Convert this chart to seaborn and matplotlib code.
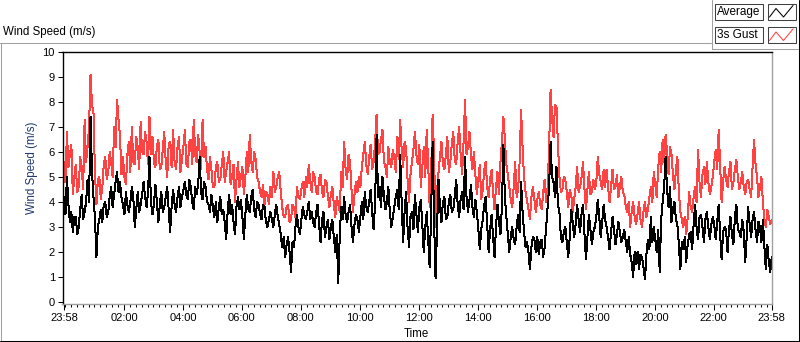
import numpy as np
import pandas as pd
import matplotlib
matplotlib.use('Agg')
import matplotlib.pyplot as plt
import matplotlib.dates as mdates
from matplotlib.lines import Line2D
from matplotlib.patches import Rectangle
import seaborn as sns

# valores, um ponto a cada 6 minutos (23:58 -> 23:58), uma linha por hora
rajada_3s = [
    5.6, 6.8, 5.9, 4.3, 5.5, 4.6, 5.4, 7.3, 6.2, 9.1,
    7.6, 3.9, 5.0, 4.6, 5.8, 5.2, 5.6, 7.0, 8.1, 6.6,
    5.8, 4.7, 6.4, 7.0, 5.5, 6.2, 7.2, 5.9, 6.4, 7.4,
    6.6, 5.4, 6.5, 5.4, 6.8, 5.0, 6.4, 6.9, 5.3, 6.6,
    5.7, 6.9, 5.4, 6.5, 7.3, 5.6, 6.0, 7.3, 6.2, 4.9,
    5.3, 4.6, 5.6, 4.9, 6.0, 5.2, 6.0, 5.0, 4.0, 5.6,
    5.0, 4.3, 6.0, 6.7, 5.2, 5.7, 4.8, 4.2, 3.9, 4.3,
    4.6, 5.2, 4.6, 5.2, 3.8, 3.4, 3.9, 3.3, 3.8, 4.6,
    4.1, 4.8, 5.0, 5.5, 4.4, 5.0, 4.3, 5.1, 4.2, 4.8,
    3.8, 4.6, 3.4, 3.9, 5.2, 6.4, 4.9, 5.6, 3.6, 4.8,
    5.0, 5.4, 6.4, 5.1, 6.3, 5.6, 7.5, 6.0, 6.9, 5.4,
    6.2, 5.4, 5.8, 6.6, 7.3, 5.4, 6.2, 4.0, 5.6, 6.8,
    5.5, 4.6, 6.2, 6.9, 3.8, 7.5, 3.0, 5.2, 6.4, 5.3,
    6.6, 5.6, 6.8, 5.5, 7.0, 5.1, 8.1, 6.2, 5.9, 6.0,
    4.3, 5.5, 4.5, 5.6, 4.2, 5.3, 3.7, 5.2, 5.6, 7.4,
    5.5, 4.6, 3.8, 5.6, 4.5, 7.7, 5.0, 4.1, 3.3, 4.6,
    3.6, 4.4, 3.7, 4.9, 4.6, 8.5, 6.6, 7.8, 5.0, 4.5,
    4.9, 3.8, 4.3, 4.1, 5.4, 4.6, 5.6, 3.7, 5.2, 4.4,
    4.5, 5.8, 4.8, 5.3, 5.3, 4.0, 5.3, 4.6, 4.2, 5.0,
    4.3, 3.6, 3.0, 4.0, 3.1, 4.0, 3.0, 4.0, 3.7, 4.6,
    5.2, 4.2, 6.0, 6.5, 6.7, 5.1, 5.9, 4.5, 5.8, 3.6,
    3.0, 2.7, 4.4, 3.6, 4.6, 6.1, 4.2, 5.4, 5.6, 4.3,
    5.0, 6.1, 6.9, 4.0, 5.4, 4.6, 5.6, 4.8, 5.7, 4.5,
    5.2, 4.3, 4.9, 4.2, 6.5, 5.0, 4.6, 4.0, 3.0, 3.4,
    3.3,
]

# leituras intermédias (3 min depois de cada leitura acima)
rajada_3s_meio = [
    4.8, 5.4, 6.3, 5.0, 4.4, 5.8, 4.5, 5.6, 7.0, 7.9,
    5.2, 4.9, 4.1, 5.5, 4.9, 6.0, 5.0, 6.2, 7.3, 5.1,
    5.0, 5.9, 5.2, 5.6, 6.6, 5.3, 6.0, 6.8, 5.5, 5.9,
    5.6, 6.2, 5.3, 6.1, 5.6, 6.3, 5.4, 5.6, 6.2, 5.2,
    6.2, 5.5, 6.4, 5.5, 5.9, 6.7, 5.3, 5.8, 5.3, 5.8,
    4.6, 5.4, 4.8, 5.5, 4.8, 5.6, 4.7, 5.5, 4.9, 4.6,
    5.4, 5.0, 5.2, 5.6, 6.0, 5.0, 4.4, 4.7, 4.4, 3.9,
    4.2, 4.4, 5.0, 4.4, 3.4, 3.8, 3.2, 3.9, 3.4, 4.2,
    4.5, 4.2, 4.6, 4.8, 5.2, 4.4, 4.9, 4.4, 4.9, 4.2,
    4.3, 3.9, 4.2, 3.6, 4.6, 5.3, 5.9, 4.5, 4.3, 4.4,
    4.6, 5.9, 5.5, 5.8, 5.3, 6.4, 5.9, 6.5, 5.6, 5.0,
    5.6, 6.1, 5.2, 5.7, 6.1, 6.4, 4.9, 5.1, 6.1, 5.9,
    6.3, 5.4, 5.0, 5.5, 5.2, 5.9, 4.4, 5.8, 5.5, 5.9,
    5.2, 6.3, 5.7, 6.4, 5.9, 6.4, 5.9, 6.8, 5.3, 5.1,
    4.9, 4.1, 5.3, 4.6, 4.9, 4.4, 4.6, 4.3, 6.4, 6.5,
    5.1, 4.1, 4.6, 4.2, 5.6, 6.2, 4.4, 3.7, 4.2, 4.1,
    4.1, 3.9, 4.4, 4.0, 6.2, 7.4, 7.9, 6.3, 4.4, 5.0,
    4.4, 4.5, 3.6, 4.6, 4.4, 5.0, 4.5, 4.5, 4.3, 4.9,
    4.8, 5.1, 4.5, 4.6, 4.6, 4.6, 4.5, 5.1, 4.6, 4.4,
    3.8, 4.0, 3.6, 3.4, 3.5, 3.3, 3.6, 3.4, 4.2, 4.0,
    4.7, 5.4, 5.2, 5.6, 6.0, 6.2, 5.1, 5.3, 4.4, 3.3,
    3.4, 3.4, 3.8, 4.2, 4.0, 4.8, 5.1, 4.7, 4.8, 4.6,
    5.6, 5.3, 5.5, 4.8, 4.9, 5.2, 4.5, 5.3, 5.0, 4.8,
    4.6, 4.8, 4.5, 5.4, 5.5, 4.2, 5.0, 3.3, 3.7, 3.1,
]

media = [
    4.2, 5.0, 3.2, 2.8, 3.4, 3.0, 4.3, 3.6, 4.9, 7.4,
    4.2, 1.8, 3.3, 3.2, 4.0, 3.6, 4.6, 4.3, 5.2, 4.8,
    3.9, 4.4, 3.6, 4.6, 3.0, 4.4, 3.9, 4.8, 3.8, 5.8,
    3.5, 4.7, 3.2, 4.4, 3.8, 4.6, 2.8, 4.5, 3.6, 4.6,
    4.2, 4.8, 4.1, 4.6, 3.7, 4.3, 5.8, 4.1, 4.6, 3.9,
    4.3, 3.4, 3.2, 4.2, 3.7, 2.5, 4.3, 3.9, 2.7, 4.2,
    4.1, 2.5, 4.3, 3.6, 4.5, 3.4, 3.9, 3.3, 3.8, 3.0,
    3.6, 3.0, 3.9, 3.1, 2.2, 1.8, 2.6, 1.2, 2.2, 3.5,
    2.7, 3.8, 3.3, 4.0, 3.6, 3.0, 3.9, 2.4, 3.6, 3.0,
    2.5, 3.3, 2.0, 0.75, 3.8, 4.2, 3.2, 3.9, 2.4, 3.5,
    2.8, 4.0, 4.4, 3.6, 4.5, 2.9, 6.7, 4.6, 5.0, 3.7,
    4.6, 3.0, 3.8, 4.5, 5.9, 2.4, 4.4, 2.2, 3.6, 4.3,
    2.8, 4.1, 2.0, 3.6, 1.4, 6.4, 0.95, 4.9, 3.2, 4.2,
    3.4, 4.3, 3.7, 4.9, 3.4, 4.4, 5.8, 3.6, 4.7, 3.4,
    3.6, 2.1, 3.3, 4.2, 2.0, 3.5, 1.8, 3.9, 2.7, 6.3,
    3.4, 2.0, 3.0, 2.3, 3.5, 4.8, 2.8, 2.4, 1.3, 2.6,
    2.0, 1.9, 2.5, 2.2, 3.8, 6.4, 4.8, 5.4, 3.6, 2.4,
    3.0, 1.8, 3.7, 2.6, 3.9, 2.8, 3.9, 1.7, 3.5, 2.3,
    3.0, 4.1, 2.6, 3.9, 3.0, 2.1, 3.4, 2.3, 3.2, 2.4,
    2.9, 2.0, 1.9, 1.0, 1.5, 1.3, 1.8, 0.9, 2.5, 3.4,
    3.0, 2.0, 1.2, 4.0, 5.8, 3.8, 3.2, 4.0, 3.1, 1.3,
    2.1, 1.6, 2.7, 2.1, 3.9, 2.5, 3.5, 2.4, 3.6, 2.5,
    3.4, 2.5, 3.9, 1.7, 3.0, 2.0, 3.4, 2.3, 3.9, 2.8,
    3.3, 1.6, 3.8, 2.6, 3.6, 2.4, 3.0, 3.3, 1.3, 1.6,
    1.8,
]

media_meio = [
    3.5, 3.9, 3.6, 3.4, 2.7, 3.7, 3.3, 4.0, 4.0, 5.2,
    3.4, 3.0, 3.7, 3.9, 3.4, 4.2, 3.8, 4.8, 4.4, 4.2,
    3.5, 3.9, 4.0, 4.2, 3.7, 3.6, 4.3, 4.2, 4.4, 4.0,
    3.9, 4.0, 3.9, 3.6, 4.2, 3.7, 3.8, 3.9, 4.2, 3.8,
    4.5, 4.3, 4.9, 4.0, 4.6, 4.7, 4.4, 4.8, 4.0, 3.6,
    3.8, 4.0, 3.8, 3.5, 3.2, 3.6, 3.5, 3.2, 3.8, 3.7,
    3.4, 3.5, 3.7, 4.2, 3.7, 4.0, 3.5, 3.9, 3.2, 3.3,
    3.3, 3.5, 3.4, 2.7, 2.6, 2.3, 2.0, 2.4, 3.0, 3.0,
    3.3, 3.5, 3.6, 3.3, 3.2, 3.6, 3.1, 3.3, 2.6, 3.3,
    3.0, 2.6, 2.7, 2.6, 3.3, 3.5, 3.6, 3.0, 3.1, 3.3,
    3.4, 3.3, 3.8, 4.0, 3.6, 4.0, 4.2, 3.8, 4.2, 4.0,
    3.6, 3.4, 4.2, 3.7, 4.0, 3.6, 3.0, 3.4, 2.9, 3.5,
    3.8, 3.1, 3.0, 2.5, 3.6, 3.2, 3.0, 3.8, 4.0, 3.3,
    4.0, 3.6, 4.2, 3.9, 4.1, 3.7, 4.2, 4.1, 3.8, 4.1,
    2.9, 2.9, 3.9, 3.1, 2.9, 2.6, 3.0, 3.2, 3.8, 4.2,
    2.7, 2.6, 2.5, 3.0, 2.8, 3.6, 2.2, 2.0, 2.2, 2.5,
    2.6, 2.4, 1.8, 3.0, 4.6, 5.0, 4.2, 3.9, 2.6, 2.8,
    2.4, 2.6, 3.2, 3.1, 3.3, 3.5, 2.7, 2.6, 2.9, 2.8,
    3.4, 3.4, 3.2, 3.3, 2.6, 2.8, 2.9, 2.7, 2.8, 2.6,
    2.4, 2.6, 1.6, 2.0, 2.0, 1.9, 1.4, 1.9, 2.1, 2.4,
    2.5, 2.9, 3.3, 4.6, 4.5, 4.6, 3.7, 3.3, 2.3, 2.4,
    2.6, 2.3, 2.8, 3.1, 3.0, 3.4, 3.0, 3.3, 3.0, 3.1,
    3.1, 3.2, 2.7, 2.8, 2.9, 2.9, 2.7, 3.4, 2.9, 2.6,
    2.8, 2.6, 3.1, 3.3, 2.9, 3.2, 2.4, 2.2, 2.3, 1.2,
]

inicio = '2024-01-01 23:58'
horas_rotulo = list(range(2, 24, 2))
ticks_y = list(range(0, 11))

W, H = 800, 342

sns.set_theme(style='white')
plt.rcParams['font.family'] = ['Liberation Sans', 'DejaVu Sans']
plt.rcParams['font.size'] = 8


def intercalar(principal, meio):
    serie = []
    for i, v in enumerate(principal):
        serie.append(v)
        if i < len(meio):
            serie.append(meio[i])
    return serie


rajada_total = intercalar(rajada_3s, rajada_3s_meio)
media_total = intercalar(media, media_meio)
tempos = pd.date_range(inicio, periods=len(media_total), freq='3min')
dados = pd.DataFrame({'Tempo': tempos, 'Media': media_total, 'Rajada': rajada_total})


def px(x, y):
    # pixel (origem no topo esquerdo) -> fração da figura
    return x / W, 1 - y / H


fig = plt.figure(figsize=(W / 100, H / 100), dpi=100)
fig.patch.set_facecolor('white')
ax = fig.add_axes([62.5 / W, 1 - 303.5 / H, (772 - 62.5) / W, (303.5 - 52) / H])
ax.set_facecolor('white')

# linhas de 1 px sem antialias, como no LabVIEW
sns.lineplot(data=dados, x='Tempo', y='Rajada', color='#ff4242', lw=0.72,
             antialiased=False, ax=ax)
sns.lineplot(data=dados, x='Tempo', y='Media', color='black', lw=0.72,
             antialiased=False, ax=ax)

ax.set_xlim(tempos[0] - pd.Timedelta(minutes=3), tempos[-1] + pd.Timedelta(minutes=0.5))
ax.set_ylim(-0.06, 10)
ax.set_yticks(ticks_y)
ax.set_xlabel('')
ax.set_ylabel('')

dia2 = tempos[0].normalize() + pd.Timedelta(days=1)
ticks_x = [tempos[0]] + [dia2 + pd.Timedelta(hours=h) for h in horas_rotulo] + [tempos[-1]]
ax.set_xticks(ticks_x)
ax.xaxis.set_major_formatter(mdates.DateFormatter('%H:%M'))
ax.xaxis.set_minor_locator(mdates.MinuteLocator(byminute=range(0, 60, 12)))

ax.tick_params(axis='x', which='major', direction='out', length=4, width=0.75,
               colors='black', labelsize=8, pad=2.5, bottom=True)
ax.tick_params(axis='x', which='minor', direction='out', length=2.2, width=0.75,
               color='black', bottom=True)
ax.tick_params(axis='y', which='major', direction='out', length=3.5, width=0.75,
               colors='black', labelsize=8, pad=2, left=True)

for lado in ['top', 'left']:
    ax.spines[lado].set_color('black')
    ax.spines[lado].set_linewidth(1.0)
for lado in ['right', 'bottom']:
    ax.spines[lado].set_color('#a0a0a0')
    ax.spines[lado].set_linewidth(1.0)

# textos
fig.text(*px(3, 32), 'Wind Speed (m/s)', ha='left', va='center', fontsize=8.3, color='black')
fig.text(*px(32, 168), 'Wind Speed (m/s)', rotation=90, ha='center', va='center',
         fontsize=8.3, color='#1f3a6e')
fig.text(*px(416, 334), 'Time', ha='center', va='center', fontsize=8.3, color='black')

# moldura externa
def linha(x0, y0, x1, y1, cor, lw=0.75):
    a, b = px(x0, y0)
    c, d = px(x1, y1)
    fig.add_artist(Line2D([a, c], [b, d], transform=fig.transFigure, color=cor, lw=lw))

linha(0, 42.5, 711, 42.5, '#a0a0a0')
linha(1, 42.5, 1, 341, '#a0a0a0')
linha(711.5, 0, 711.5, 48.5, '#a0a0a0')
linha(711.5, 48.5, 798, 48.5, '#a0a0a0')
linha(798.5, 0, 798.5, 341, 'black')
linha(0, 340.5, 799, 340.5, 'black')

# legenda
def caixa(x0, y0, x1, y1):
    a, b = px(x0, y1)
    fig.add_artist(Rectangle((a, b), (x1 - x0) / W, (y1 - y0) / H, transform=fig.transFigure,
                             facecolor='white', edgecolor='#404040', lw=0.75))

itens = [('Average', 'black', 3.5), ('3s Gust', '#ff4242', 27)]
for nome, cor, y0 in itens:
    caixa(715, y0, 763, y0 + 16)
    caixa(768, y0, 796, y0 + 16)
    fig.text(*px(717, y0 + 8.5), nome, ha='left', va='center', fontsize=8.5, color='black')
    zx = [769.5, 776, 783.5, 793]
    zy = [y0 + 13.5, y0 + 5, y0 + 13.5, y0 + 2]
    pts = [px(x, y) for x, y in zip(zx, zy)]
    fig.add_artist(Line2D([p[0] for p in pts], [p[1] for p in pts], transform=fig.transFigure,
                          color=cor, lw=0.75))

fig.savefig('out.png', dpi=100)
